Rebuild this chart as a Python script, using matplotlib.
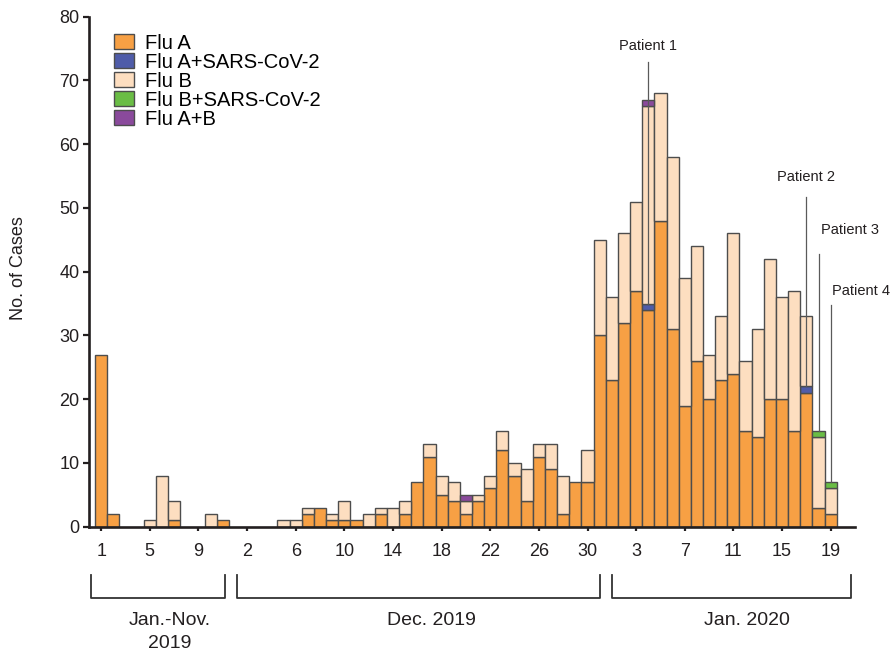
import numpy as np
import matplotlib
matplotlib.use("Agg")
from matplotlib import pyplot as plt
from matplotlib.patches import Patch
import matplotlib.transforms as mtransforms

plt.rcParams['font.family'] = ['Liberation Sans', 'DejaVu Sans']

# day labels: Jan-Nov 2019 (months), Dec 2019 (days), Jan 2020 (days)
months_2019 = list(range(1, 12))
dec_days = list(range(1, 32))
jan_days = list(range(1, 20))
day_labels = months_2019 + dec_days + jan_days

flu_a = ([27, 2, 0, 0, 0, 0, 1, 0, 0, 0, 1]
         + [0, 0, 0, 0, 0, 0, 2, 3, 1, 1, 1, 0, 2, 0, 2, 7, 11, 5, 4, 2, 4, 6, 12, 8, 4, 11, 9, 2, 7, 7, 30]
         + [23, 32, 37, 34, 48, 31, 19, 26, 20, 23, 24, 15, 14, 20, 20, 15, 21, 3, 2])
flu_b = ([0, 0, 0, 0, 1, 8, 3, 0, 0, 2, 0]
         + [0, 0, 0, 0, 1, 1, 1, 0, 1, 3, 0, 2, 1, 3, 2, 0, 2, 3, 3, 2, 1, 2, 3, 2, 5, 2, 4, 6, 0, 5, 15]
         + [13, 14, 14, 31, 20, 27, 20, 18, 7, 10, 22, 11, 17, 22, 16, 22, 11, 11, 4])
n = len(day_labels)
flu_a_sars = [0] * n
flu_a_sars[11 + 31 + 3] = 1   # Jan 4
flu_a_sars[11 + 31 + 16] = 1  # Jan 17
flu_b_sars = [0] * n
flu_b_sars[11 + 31 + 17] = 1  # Jan 18
flu_b_sars[11 + 31 + 18] = 1  # Jan 19
flu_ab = [0] * n
flu_ab[11 + 19] = 1           # Dec 20
flu_ab[11 + 31 + 3] = 1       # Jan 4

series = [('Flu A', flu_a, '#F7A044'),
          ('Flu A+SARS-CoV-2', flu_a_sars, '#4F5CA9'),
          ('Flu B', flu_b, '#FDDEC0'),
          ('Flu B+SARS-CoV-2', flu_b_sars, '#6ABD45'),
          ('Flu A+B', flu_ab, '#8A4A9C')]

# patients: (label, day index, line top, text x, text y)
patients = [('Patient 1', 11 + 31 + 3, 72.9, 45, 75.4),
            ('Patient 2', 11 + 31 + 16, 51.7, 58, 54.9),
            ('Patient 3', 11 + 31 + 17, 42.7, 61.6, 46.6),
            ('Patient 4', 11 + 31 + 18, 34.8, 62.5, 37.0)]

groups = [('Jan.-Nov.\n2019', -0.82, 10.2, 5.6),
          ('Dec. 2019', 11.2, 41.0, 27.2),
          ('Jan. 2020', 42.0, 61.7, 53.1)]

fig = plt.figure(figsize=(8.91, 6.54), dpi=100)
ax = fig.add_axes([0.0999, 0.1947, 0.8597, 0.7798])

x = np.arange(n)
bottom = np.zeros(n)
edge = '#4d4d4d'
for name, vals, col in series:
    v = np.array(vals, dtype=float)
    m = v > 0
    ax.bar(x[m], v[m], bottom=bottom[m], width=1.0, color=col,
           edgecolor=edge, linewidth=1.0, zorder=2)
    bottom += v

totals = bottom
for label, idx, ytop, tx, ty in patients:
    # line goes from the SARS-CoV-2 segment up to the label
    a = flu_a[idx] + flu_a_sars[idx]
    ylow = a if flu_a_sars[idx] else totals[idx] - flu_ab[idx]
    ax.plot([idx, idx], [ylow, ytop], color='#5a5a5a', lw=0.9, zorder=3)
    ax.text(tx, ty, label, ha='center', va='center', fontsize=10.5,
            color='#231f20', clip_on=False)

ax.set_xlim(-1, 62)
ax.set_ylim(0, 80)
ax.set_yticks(range(0, 81, 10))
ticks = list(range(0, n, 4))
ax.set_xticks(ticks)
ax.set_xticklabels([str(day_labels[i]) for i in ticks])

for s in ['top', 'right']:
    ax.spines[s].set_visible(False)
for s in ['left', 'bottom']:
    ax.spines[s].set_linewidth(1.9)
    ax.spines[s].set_color('#231f20')
ax.tick_params(axis='y', length=4, width=1.6, pad=3, labelsize=13, colors='#231f20')
ax.tick_params(axis='x', length=3, width=1.6, pad=9, labelsize=13, colors='#231f20')

ax.set_ylabel('No. of Cases', fontsize=13, color='#231f20')
ax.yaxis.set_label_coords(-0.0813, 0.507)

# group brackets under the axis
trans = mtransforms.blended_transform_factory(ax.transData, ax.transAxes)
for label, x0, x1, xt in groups:
    ax.plot([x0, x0, x1, x1], [-0.0947, -0.140, -0.140, -0.0947], color='#333333',
            lw=1.3, transform=trans, clip_on=False)
    ax.text(xt, -0.167, label, ha='center', va='top', fontsize=14, color='#231f20',
            transform=trans, linespacing=1.5)

handles = [Patch(facecolor=c, edgecolor=edge, linewidth=1.0, label=nm) for nm, v, c in series]
ax.legend(handles=handles, loc='upper left', bbox_to_anchor=(0.032, 0.967),
          frameon=False, fontsize=14.5, handlelength=1.0, handleheight=0.75,
          handletextpad=0.55, labelspacing=0.0, borderpad=0, borderaxespad=0)

fig.savefig('out.png', dpi=100)
